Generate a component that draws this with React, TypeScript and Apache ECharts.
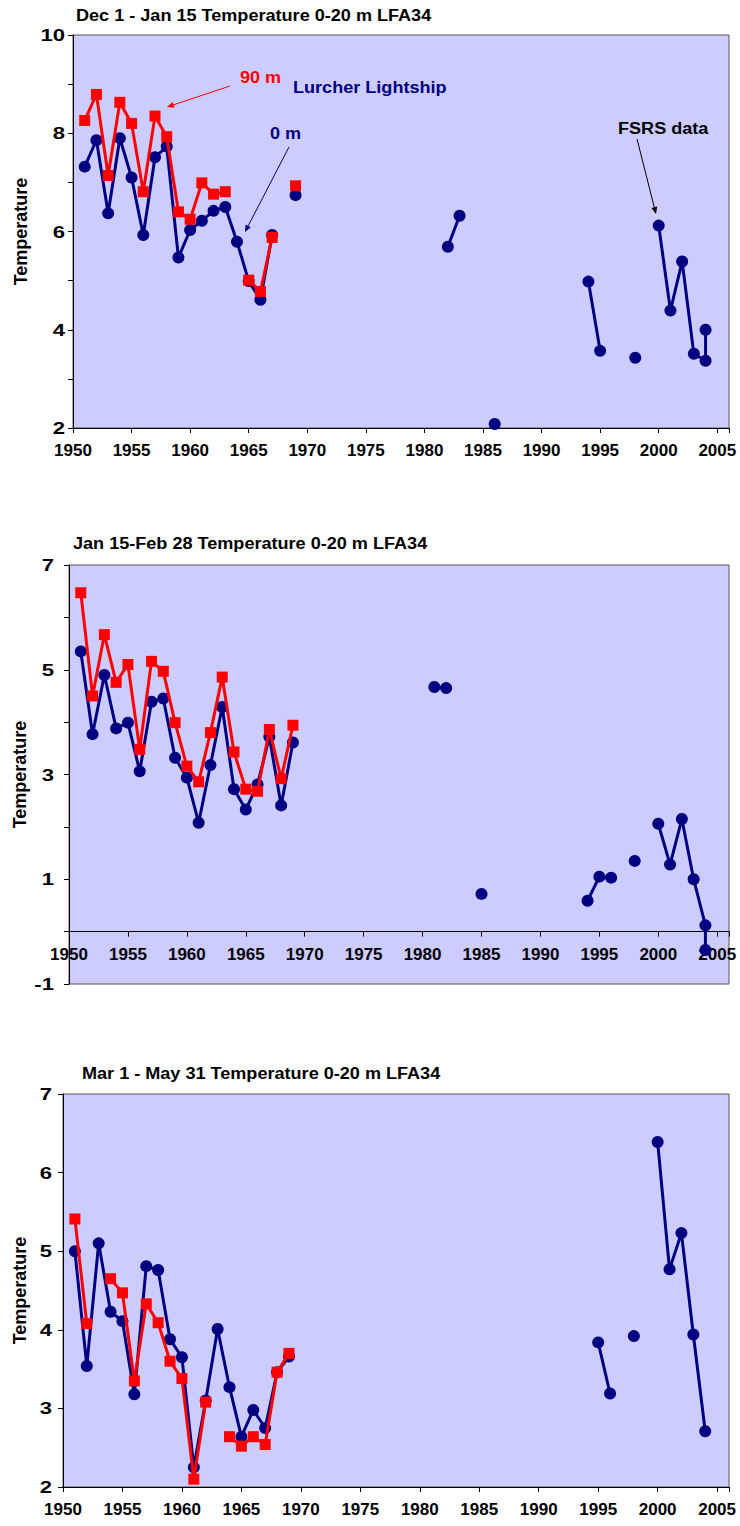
import React, { useEffect, useRef } from 'react';
import * as echarts from 'echarts';

const FONT = '"Liberation Sans", Arial, Helvetica, sans-serif';
const NAVY = '#000080';
const RED = '#FF0000';
const PLOT_BG = '#CCCCFF';

// Panel titles
const titles = [
  'Dec 1 - Jan 15 Temperature 0-20 m LFA34',
  'Jan 15-Feb 28 Temperature 0-20 m LFA34',
  'Mar 1 - May 31 Temperature 0-20 m LFA34',
];

// Tick labels
const xTickYears = [1950, 1955, 1960, 1965, 1970, 1975, 1980, 1985, 1990, 1995, 2000, 2005];
const yTicksDec = [2, 4, 6, 8, 10];
const yTicksJan = [-1, 1, 3, 5, 7];
const yTicksMar = [2, 3, 4, 5, 6, 7];

// Dec 1 - Jan 15: 0 m (Lurcher Lightship + FSRS) and 90 m
const decYears0m = [1951, 1952, 1953, 1954, 1955, 1956, 1957, 1958, 1959, 1960, 1961, 1962, 1963, 1964, 1965, 1966, 1967, 1969,
  1982, 1983, 1986, 1994, 1995, 1998, 2000, 2001, 2002, 2003, 2004, 2004];
const decTemp0m = [7.32, 7.86, 6.37, 7.90, 7.10, 5.93, 7.51, 7.73, 5.47, 6.03, 6.22, 6.42, 6.50, 5.79, 4.99, 4.61, 5.93, 6.74,
  5.69, 6.32, 2.08, 4.98, 3.57, 3.43, 6.12, 4.39, 5.39, 3.51, 3.37, 4.00];
const decYears90m = [1951, 1952, 1953, 1954, 1955, 1956, 1957, 1958, 1959, 1960, 1961, 1962, 1963, 1965, 1966, 1967, 1969];
const decTemp90m = [8.26, 8.79, 7.14, 8.63, 8.20, 6.81, 8.35, 7.93, 6.40, 6.25, 6.99, 6.76, 6.81, 5.01, 4.78, 5.88, 6.93];

// Jan 15 - Feb 28
const janYears0m = [1951, 1952, 1953, 1954, 1955, 1956, 1957, 1958, 1959, 1960, 1961, 1962, 1963, 1964, 1965, 1966, 1967, 1968, 1969,
  1981, 1982, 1985, 1994, 1995, 1996, 1998, 2000, 2001, 2002, 2003, 2004, 2004];
const janTemp0m = [5.35, 3.77, 4.90, 3.88, 3.99, 3.06, 4.39, 4.45, 3.32, 2.94, 2.08, 3.18, 4.29, 2.72, 2.33, 2.81, 3.72, 2.41, 3.61,
  4.67, 4.65, 0.72, 0.59, 1.05, 1.03, 1.35, 2.06, 1.28, 2.15, 1.00, 0.12, -0.35];
const janYears90m = [1951, 1952, 1953, 1954, 1955, 1956, 1957, 1958, 1959, 1960, 1961, 1962, 1963, 1964, 1965, 1966, 1967, 1968, 1969];
const janTemp90m = [6.47, 4.50, 5.67, 4.76, 5.10, 3.48, 5.16, 4.97, 3.99, 3.16, 2.86, 3.80, 4.86, 3.43, 2.72, 2.68, 3.86, 2.92, 3.94];

// Mar 1 - May 31
const marYears0m = [1951, 1952, 1953, 1954, 1955, 1956, 1957, 1958, 1959, 1960, 1961, 1962, 1963, 1964, 1965, 1966, 1967, 1968, 1969,
  1995, 1996, 1998, 2000, 2001, 2002, 2003, 2004];
const marTemp0m = [5.00, 3.54, 5.10, 4.23, 4.11, 3.18, 4.81, 4.76, 3.88, 3.65, 2.25, 3.10, 4.01, 3.27, 2.64, 2.98, 2.75, 3.46, 3.66,
  3.84, 3.19, 3.92, 6.39, 4.77, 5.23, 3.94, 2.71];
const marYears90m = [1951, 1952, 1954, 1955, 1956, 1957, 1958, 1959, 1960, 1961, 1962, 1964, 1965, 1966, 1967, 1968, 1969];
const marTemp90m = [5.41, 4.08, 4.65, 4.47, 3.35, 4.33, 4.09, 3.60, 3.38, 2.10, 3.08, 2.64, 2.52, 2.64, 2.54, 3.46, 3.70];

// Years with no observation break the line, as in the original spreadsheet series
function withGaps(years: number[], vals: number[]) {
  const out: any[] = [];
  years.forEach((yr, i) => {
    if (i > 0 && yr - years[i - 1] > 1) out.push([years[i - 1] + 1, '-']);
    out.push([yr, vals[i]]);
  });
  return out;
}

const panels = [
  { grid: { left: 73, top: 35, right: 11, height: 393 }, yMin: 2, yMax: 10, yTicks: yTicksDec, labelGap: 8, nameGap: 43,
    titleX: 76, titleY: 16, blue: withGaps(decYears0m, decTemp0m), red: withGaps(decYears90m, decTemp90m) },
  { grid: { left: 69, top: 565, right: 11, height: 419 }, yMin: -1, yMax: 7, yTicks: yTicksJan, labelGap: 15, nameGap: 40,
    titleX: 73, titleY: 544, blue: withGaps(janYears0m, janTemp0m), red: withGaps(janYears90m, janTemp90m) },
  { grid: { left: 63, top: 1094, right: 11, height: 393 }, yMin: 2, yMax: 7, yTicks: yTicksMar, labelGap: 11, nameGap: 34,
    titleX: 82, titleY: 1074, blue: withGaps(marYears0m, marTemp0m), red: withGaps(marYears90m, marTemp90m) },
];

const SX = 1.13;

function label(text: string, x: number, y: number, fill: string, align = 'left', size = 16, sx = SX) {
  return {
    type: 'text', x, y, scaleX: sx, z: 100,
    style: {
      text, fill, font: `bold ${size}px ${FONT}`,
      textAlign: align, textVerticalAlign: 'middle', align, verticalAlign: 'middle',
    },
  };
}

function arrow(x1: number, y1: number, x2: number, y2: number, color: string) {
  const dx = x2 - x1, dy = y2 - y1;
  const len = Math.hypot(dx, dy);
  const ux = dx / len, uy = dy / len;
  const hl = 7, hw = 3;
  const bx = x2 - ux * hl, by = y2 - uy * hl;
  return [
    { type: 'line', z: 100, shape: { x1, y1, x2: bx, y2: by }, style: { stroke: color, lineWidth: 1 } },
    {
      type: 'polygon', z: 100,
      shape: { points: [[x2, y2], [bx - uy * hw, by + ux * hw], [bx + uy * hw, by - ux * hw]] },
      style: { fill: color },
    },
  ];
}

export default function App() {
  const ref = useRef<HTMLDivElement>(null);

  useEffect(() => {
    document.body.style.margin = '0';
    const chart = echarts.init(ref.current!, null, { renderer: 'svg' });

    const axisText = { color: '#000', fontWeight: 'bold' as const, fontFamily: FONT };

    const annotations: any[] = [
      ...panels.map((p, k) => label(titles[k], p.titleX, p.titleY, '#000')),
      label('90 m', 240, 78, RED),
      label('Lurcher Lightship', 293, 88, NAVY),
      label('0 m', 270, 134, NAVY),
      label('FSRS data', 618, 129, '#000'),
      ...arrow(230, 86, 167, 107, RED),
      ...arrow(289, 147, 245, 232, NAVY),
      ...arrow(637, 139, 656, 214, '#000'),
    ];

    const option: any = {
      animation: false,
      backgroundColor: '#fff',
      grid: panels.map((p) => ({
        ...p.grid, show: true, backgroundColor: PLOT_BG, borderColor: '#555', borderWidth: 1, containLabel: false,
      })),
      xAxis: panels.map((p, k) => ({
        type: 'value', gridIndex: k, min: 1950, max: 2006, interval: 5,
        // the year axis crosses the temperature axis at 0 when 0 is in range
        offset: p.yMin < 0 ? -(-p.yMin / (p.yMax - p.yMin)) * p.grid.height : 0,
        splitLine: { show: false },
        axisLine: { show: true, onZero: false, lineStyle: { color: '#000', width: 1 } },
        axisTick: { show: true, length: 5, lineStyle: { color: '#000' } },
        axisLabel: {
          ...axisText, fontSize: 17, margin: 14,
          formatter: (v: number) => (xTickYears.includes(v) ? String(v) : ''),
        },
      })),
      yAxis: panels.map((p, k) => ({
        type: 'value', gridIndex: k, min: p.yMin, max: p.yMax, interval: 1,
        splitLine: { show: false },
        axisLine: { show: true, onZero: false, lineStyle: { color: '#000', width: 1 } },
        axisTick: { show: true, length: 5, lineStyle: { color: '#000' } },
        axisLabel: { show: false },
        name: 'Temperature', nameLocation: 'middle', nameRotate: 90, nameGap: p.nameGap,
        nameTextStyle: { ...axisText, fontSize: 18 },
      })),
      series: panels.flatMap((p, k) => [
        {
          type: 'line', name: '0 m', xAxisIndex: k, yAxisIndex: k, data: p.blue,
          symbol: 'circle', symbolSize: 12, showAllSymbol: true, connectNulls: false,
          lineStyle: { color: NAVY, width: 3 }, itemStyle: { color: NAVY }, z: 2,
        },
        {
          type: 'line', name: '90 m', xAxisIndex: k, yAxisIndex: k, data: p.red,
          symbol: 'rect', symbolSize: 11, showAllSymbol: true, connectNulls: false,
          lineStyle: { color: RED, width: 3 }, itemStyle: { color: RED }, z: 3,
        },
      ]),
      graphic: annotations,
    };

    chart.setOption(option);

    // temperature tick labels, placed on the y scale of each panel (wide bold lettering)
    const yLabels: any[] = [];
    panels.forEach((p, k) => {
      p.yTicks.forEach((v) => {
        const pt = chart.convertToPixel({ gridIndex: k }, [1950, v]) as number[];
        yLabels.push(label(String(v), pt[0] - p.labelGap, pt[1], '#000', 'right', 17, 1.3));
      });
    });
    chart.setOption({ graphic: [...annotations, ...yLabels] });

    return () => chart.dispose();
  }, []);

  return <div ref={ref} style={{ width: 740, height: 1526 }} />;
}
